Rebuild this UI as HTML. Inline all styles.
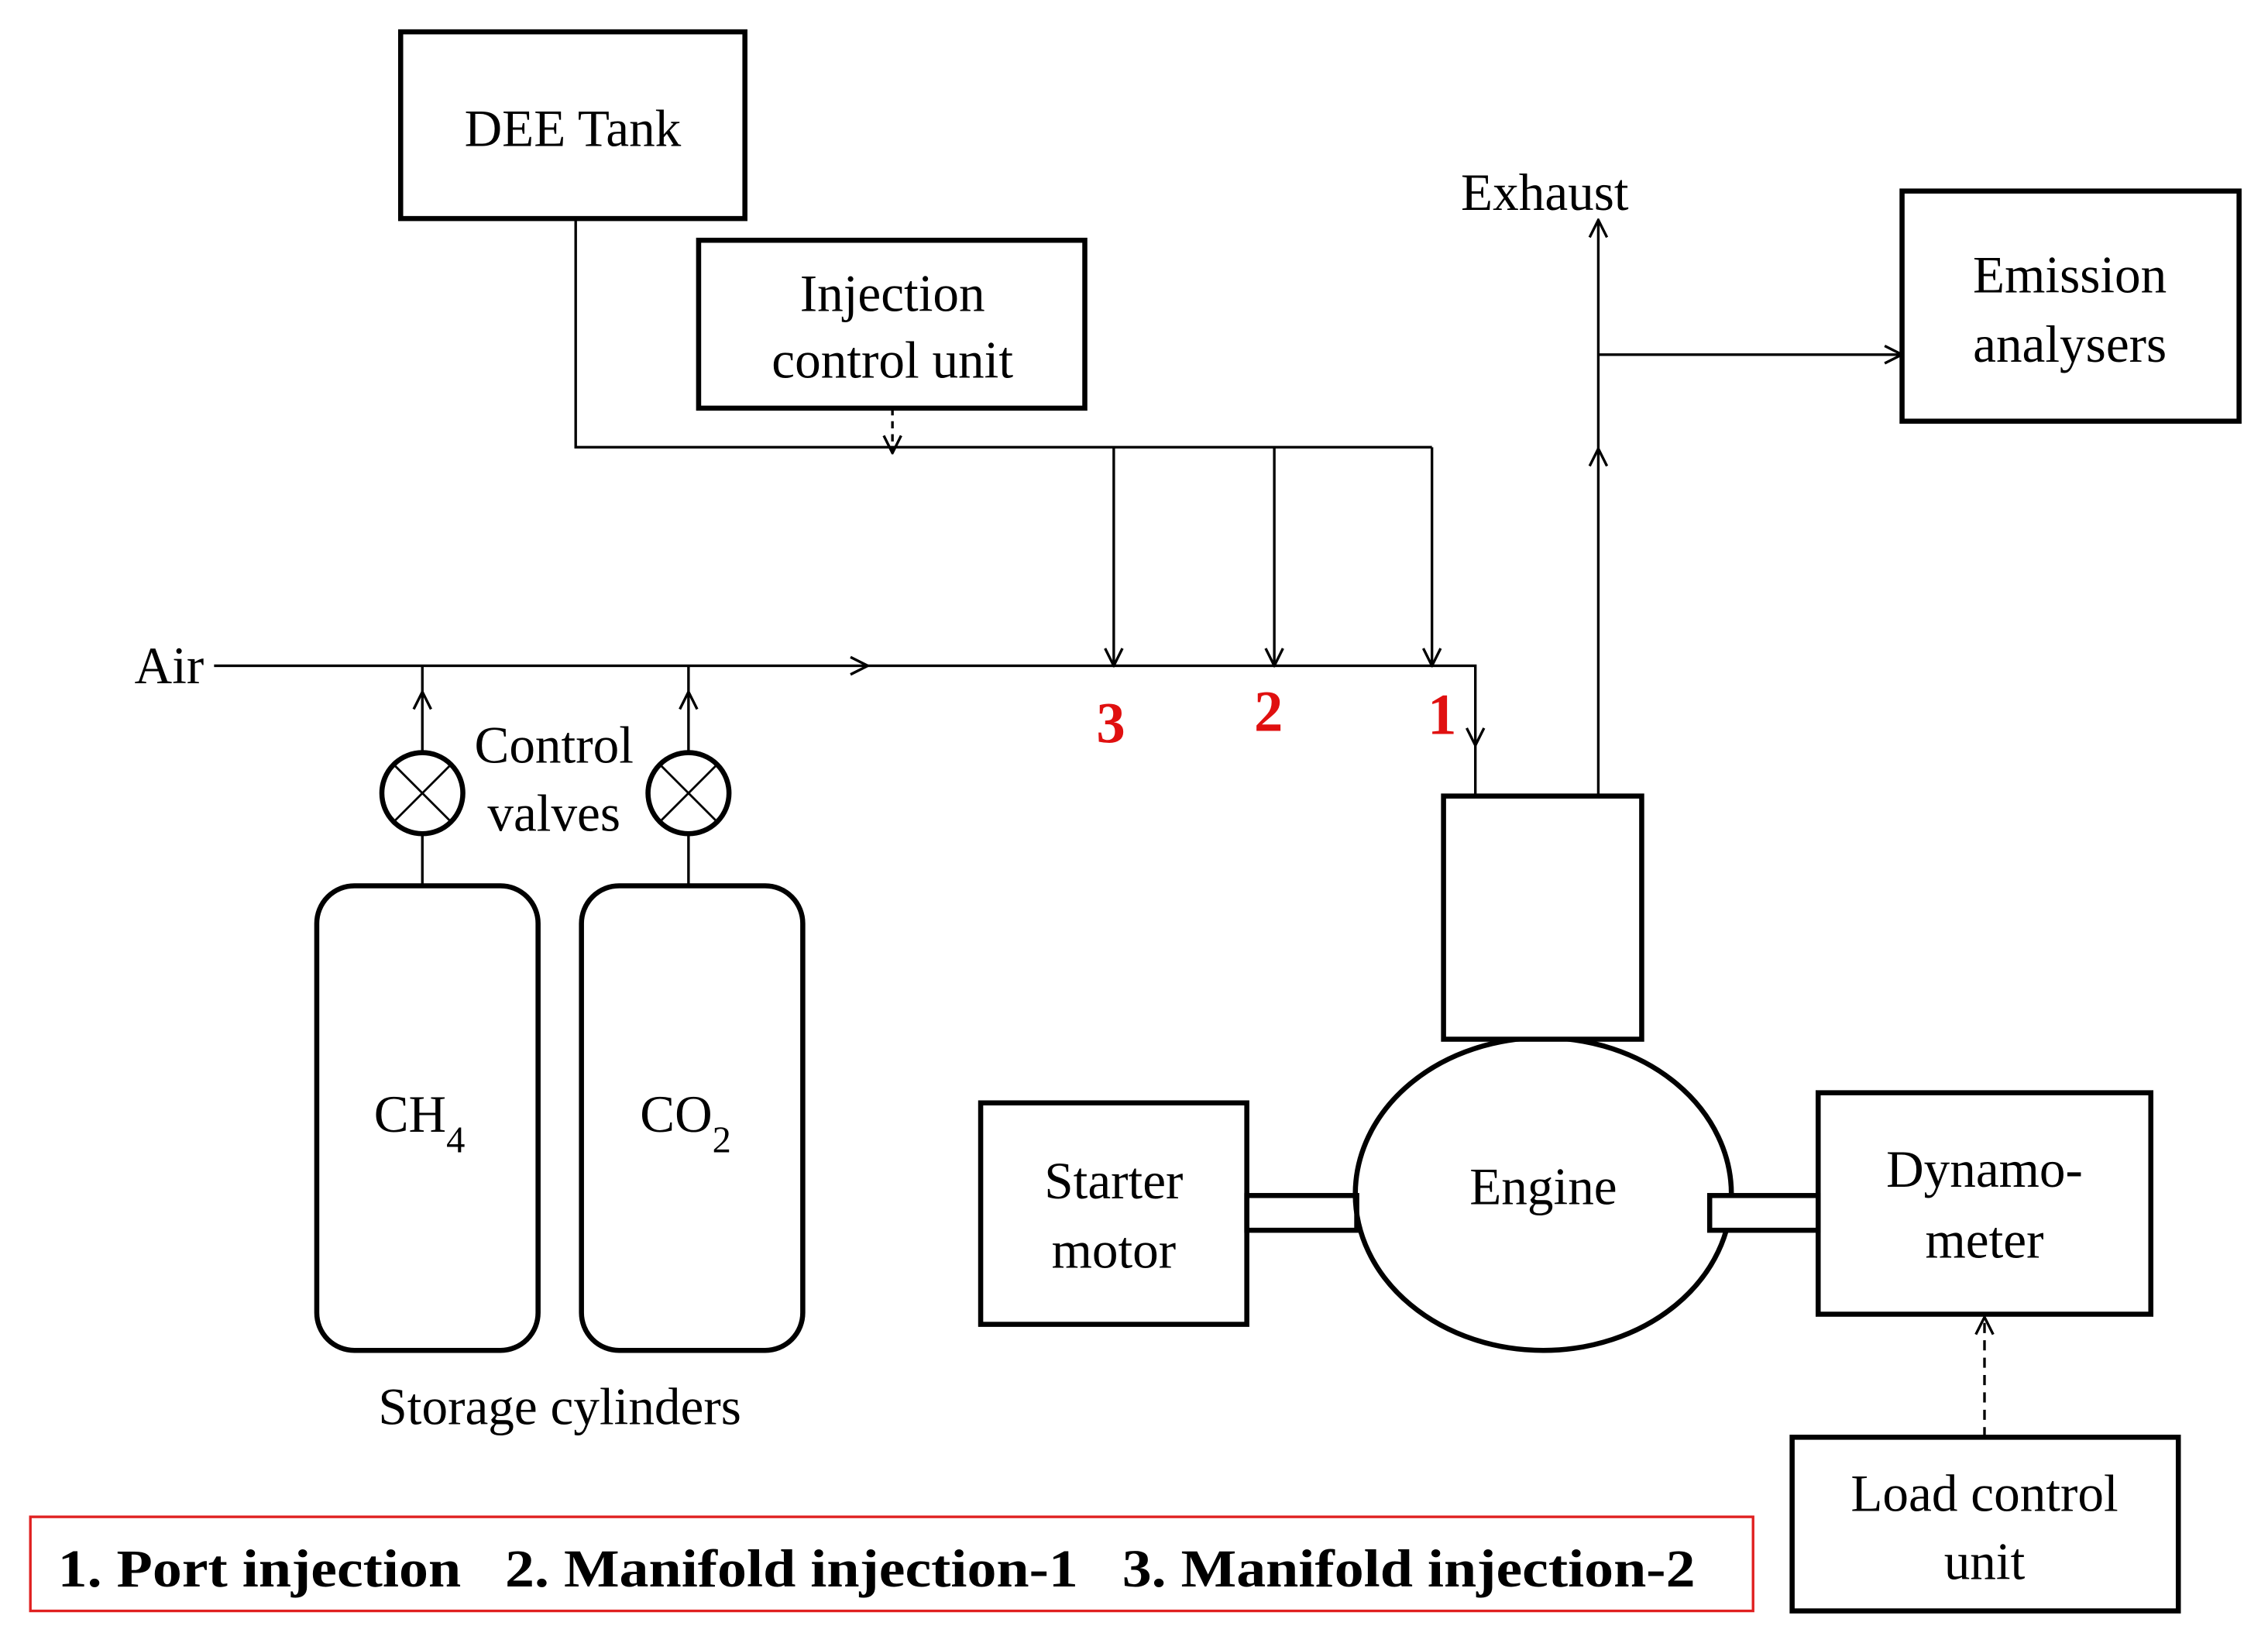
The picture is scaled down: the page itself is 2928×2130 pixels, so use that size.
<!DOCTYPE html>
<html><head><meta charset="utf-8"><style>
html,body{margin:0;padding:0;background:#fff;}
svg{display:block;}
text{font-family:"Liberation Serif",serif;fill:#000;}
</style></head><body>
<svg width="2928" height="2130" viewBox="0 0 1568 1140" preserveAspectRatio="none" xmlns="http://www.w3.org/2000/svg">
<defs>
<marker id="a" viewBox="0 0 14 14" refX="13" refY="7" markerWidth="14" markerHeight="14" markerUnits="userSpaceOnUse" orient="auto">
<path d="M1,1 L13,7 L1,13" fill="none" stroke="#000" stroke-width="1.8"/>
</marker>
</defs>
<g fill="none" stroke="#000">
<rect x="277" y="22" width="238" height="129" stroke-width="3.5"/>
<rect x="483" y="166" width="267" height="116" stroke-width="3.5"/>
<rect x="1315" y="132" width="233" height="159" stroke-width="3.5"/>
<rect x="678" y="762" width="184" height="153" stroke-width="3.5"/>
<rect x="1257" y="755" width="230" height="153" stroke-width="3.5"/>
<rect x="1239" y="993" width="267" height="120" stroke-width="3.5"/>
<rect x="219" y="612" width="153" height="321" rx="26" stroke-width="3.5"/>
<rect x="402" y="612" width="153" height="321" rx="26" stroke-width="3.5"/>
<ellipse cx="1067" cy="825" rx="130" ry="108" stroke-width="3.5"/>
<rect x="998" y="550" width="137" height="168" fill="#fff" stroke-width="3.5"/>
<rect x="862" y="826" width="76" height="24" stroke-width="3.5"/>
<rect x="1182" y="826" width="75" height="24" fill="#fff" stroke-width="3.5"/>
<g stroke-width="1.8">
<polyline points="398,151 398,309 990,309"/>
<line x1="617" y1="282" x2="617" y2="313" stroke-dasharray="5,4" marker-end="url(#a)"/>
<line x1="770" y1="309" x2="770" y2="460" marker-end="url(#a)"/>
<line x1="881" y1="309" x2="881" y2="460" marker-end="url(#a)"/>
<line x1="990" y1="309" x2="990" y2="460" marker-end="url(#a)"/>
<line x1="148" y1="460" x2="600" y2="460" marker-end="url(#a)"/>
<polyline points="600,460 1020,460 1020,515" marker-end="url(#a)"/>
<line x1="1020" y1="515" x2="1020" y2="550"/>
<line x1="292" y1="612" x2="292" y2="576"/>
<line x1="292" y1="520" x2="292" y2="478" marker-end="url(#a)"/>
<line x1="292" y1="478" x2="292" y2="460"/>
<line x1="476" y1="612" x2="476" y2="576"/>
<line x1="476" y1="520" x2="476" y2="478" marker-end="url(#a)"/>
<line x1="476" y1="478" x2="476" y2="460"/>
<line x1="1105" y1="550" x2="1105" y2="310" marker-end="url(#a)"/>
<line x1="1105" y1="310" x2="1105" y2="152" marker-end="url(#a)"/>
<line x1="1105" y1="245" x2="1315" y2="245" marker-end="url(#a)"/>
<line x1="1372" y1="993" x2="1372" y2="910" stroke-dasharray="7,5" marker-end="url(#a)"/>
</g>
<circle cx="292" cy="548" r="28" stroke-width="3.5"/>
<circle cx="476" cy="548" r="28" stroke-width="3.5"/>
<g stroke-width="1.5">
<line x1="272" y1="528" x2="312" y2="568"/><line x1="312" y1="528" x2="272" y2="568"/>
<line x1="456" y1="528" x2="496" y2="568"/><line x1="496" y1="528" x2="456" y2="568"/>
</g>
<rect x="21" y="1048" width="1191" height="65" stroke="#e02020" stroke-width="1.8"/>
</g>
<g font-size="36" text-anchor="middle">
<text x="396" y="101">DEE Tank</text>
<text x="617" y="215">Injection</text>
<text x="617" y="261">control unit</text>
<text x="1068" y="145">Exhaust</text>
<text x="1431" y="202">Emission</text>
<text x="1431" y="250">analysers</text>
<text x="383" y="527">Control</text>
<text x="383" y="574">valves</text>
<text x="290" y="782">CH<tspan font-size="26" dy="14">4</tspan></text>
<text x="474" y="782">CO<tspan font-size="26" dy="14">2</tspan></text>
<text x="387" y="984">Storage cylinders</text>
<text x="770" y="828">Starter</text>
<text x="770" y="876">motor</text>
<text x="1067" y="832">Engine</text>
<text x="1372" y="820">Dynamo-</text>
<text x="1372" y="869">meter</text>
<text x="1372" y="1044">Load control</text>
<text x="1372" y="1091">unit</text>
<text x="117" y="472">Air</text>
</g>
<g font-size="40" font-weight="bold" text-anchor="middle">
<text x="768" y="513" style="fill:#e01010">3</text>
<text x="877" y="505" style="fill:#e01010">2</text>
<text x="997" y="507" style="fill:#e01010">1</text>
</g>
<text x="40" y="1096" font-size="37" font-weight="bold" textLength="1132" lengthAdjust="spacingAndGlyphs" xml:space="preserve">1. Port injection   2. Manifold injection-1   3. Manifold injection-2</text>
</svg>
</body></html>
